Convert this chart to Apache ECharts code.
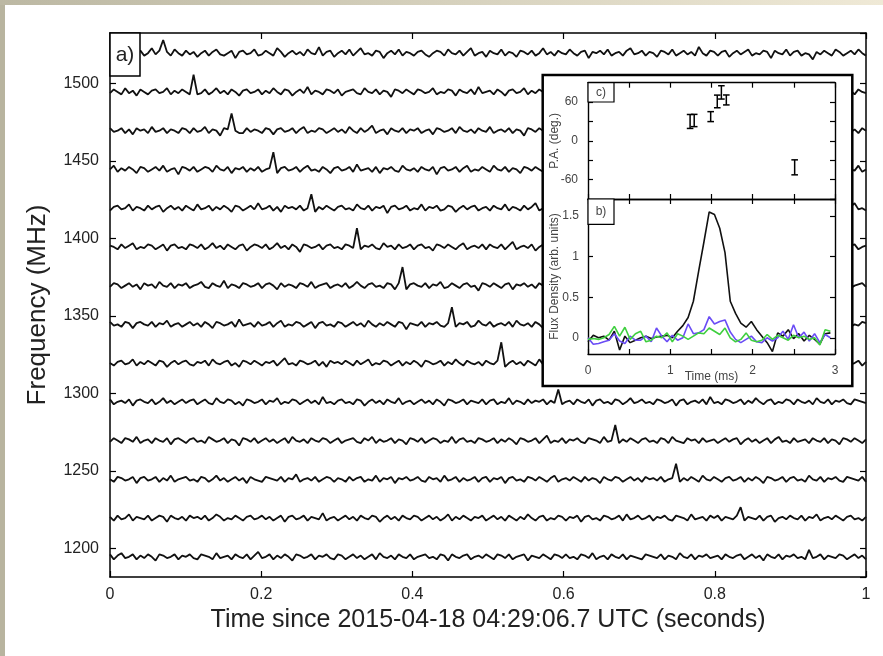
<!DOCTYPE html>
<html><head><meta charset="utf-8">
<script src="https://cdn.jsdelivr.net/npm/echarts@6/dist/echarts.min.js"></script>
<style>html,body{margin:0;padding:0;background:#fff}#c{width:883px;height:656px}</style>
</head><body><div id="c"></div>
<script>
// ---- Panel a): sub-band flux time series (arb. units), plotted offset by centre frequency (MHz) ----
const baseFreqs = [1519.5,1494.5,1469.5,1444.5,1419.5,1394.5,1369.5,1344.5,1319.5,1294.5,1269.5,1244.5,1219.5,1194.5];
const mhzPerFluxUnit = 1.6;

const n1519 = [0.5,-1,1,0,-1.5,1.5,0.5,-0.5,1,-1,0,2,-0.5,1,5.3,0.5,-1,1.5,0,-1,
1,-0.5,0.5,-1.5,0,1,-1,0.5,1.5,-0.5,-1,0,1,-2,0.5,1,-0.5,0,1.5,-1,
-0.5,1,0,-1,2,0.5,-1.5,0,1,-0.5,0.5,-1,1.5,0,-0.5,2.4,-1,0.5,1,-1.5,
0,1,-0.5,1.5,-1,0.5,2,-0.5,0,-1,1,0.5,-2,0,1,-0.5,1.5,-1,0.5,0,
-1,0.5,1,-0.5,-1.5,0,1,0.5,-1,1.5,0,-0.5,1,-1,0.5,2,-1,0,0.5,-1.5,
1,0,-0.5,1.5,-1,0.5,0,-1.5,1,0.5,-0.5,1,-1,0,2,-0.5,0.5,-1,1,0,
-0.5,1.5,0,-1,0.5,1,-2,0.5,0,1,-0.5,1.5,-1,0,0.5,-1,1,2,-0.5,0,
1,-1,0.5,0,-1.5,1,0.5,-0.5,1.5,-1,0,1,-0.5,0.5,-1,2.5,0,-1,1,0.5,
-1,0.5,1,-1.5,0,1,-0.5,0.5,1.5,-1,0,-0.5,1,0.5,-2,1,0,-0.5,1.5,-1,
0.5,1,-1,0,-0.5,-2.5,0.5,-0.5,1,0,-1,1.5,0.5,-1,0,1,-0.5,1.5,0,-1];

const n1494 = [-0.5,1,0,-1,1.5,-0.5,0.5,-1.5,1,0,-1,0.5,1,-0.5,0,1.5,-1,0.5,-0.5,1,
0,-1,6.9,-1,-0.5,1,-1,0,1.5,-0.5,0.5,-1,1,0,-1.5,0.5,1,-0.5,0,1,
-1,0.5,-0.5,1.5,0,-1,1,0.5,-1.5,0,1,-0.5,2,-1,0.5,0,-1,1,0.5,-0.5,
1,-1.5,0,0.5,1,-0.5,-1,1.5,0,-0.5,1,-1,0.5,0,-2,1,0.5,-0.5,1,0,
-1,1,0.5,-0.5,0,1.5,-1,0,-0.5,1,0.5,-1.5,1,0,-0.5,1,-1,2,-0.5,0,
0.5,-1,1,0,-1.5,0.5,1,-0.5,0,1.5,-1,0.5,-0.5,1,0,-1,0.5,1,-2,0.5,
1,-0.5,0,1,-1,0.5,1.5,-1,0,-0.5,1,0.5,-1,0,1.5,-0.5,0.5,-1.5,1,0,
-0.5,1,0.5,-1,2,0,-1,0.5,1,-0.5,0,-1.5,1,0.5,-0.5,1,0,-1,1.5,-0.5,
0,1,-1,0.5,0,-0.5,1.5,-1,0.5,1,-2,0,0.5,1,-0.5,0,1,-1,0.5,2,
-1,0,0.5,-0.5,1,0,-1.5,1,0.5,-0.5,1,-1,0,1.5,-0.5,0.5,-1,1,0,-0.5];

const n1469 = [1,-0.5,0,1,-1,0.5,-1.5,1,0,0.5,-1,1.5,-0.5,0,1,-1,0.5,0,-1,1,
0.5,-1,1,-0.5,0,1.5,-1,0.5,0,-2,1,0.5,6.9,0,-1,-1,1,-0.5,0.5,0,
-1,1,0.5,-1.5,0.5,1,-0.5,0,1,-1,0.5,1.5,-1,0,-0.5,1,0.5,-1,0,1,
-0.5,0.5,-1,1.5,0,-1,1,-0.5,0.5,2,-1,0,0.5,-1.5,1,0,-0.5,1,-1,0.5,
0,1,-1,0,0.5,-1.5,1,0.5,-0.5,0,1,-1,1.5,0,-0.5,0.5,-1,1,0,-0.5,
1.5,-1,0,0.5,-0.5,1,-1,0.5,0,-2,1,0.5,-0.5,1,0,-1,0.5,1.5,-0.5,0,
-1,0.5,1,-0.5,0,1,-1.5,0.5,1,-0.5,0,-1,1,0.5,-0.5,2,-1,0,0.5,-1,
1,0,-0.5,1.5,-1,0,0.5,-1,1,-0.5,0.5,0,-1.5,1,0.5,-0.5,1,0,-1,0.5,
-0.5,1,0,-1,1.5,0.5,-1,0,1,-0.5,0.5,-1,0,1,-2,0.5,1,-0.5,0,1,
-1,0.5,0,1.5,-1,0.5,-0.5,1,0,-1,1,0.5,-1.5,0,1,-0.5,0.5,-1,1,0];

const n1444 = [0,1.5,-1,0.5,-0.5,1,0,-1.5,1,0.5,-1,0,1,-0.5,1.5,-1,0,0.5,-2,1,
0.5,-0.5,1,-1,0,1,0.5,-1,1.5,0,-0.5,1,-1.5,0.5,0,1,-1,0.5,-0.5,1,
-1,0,0.5,6.9,-1.5,0.5,1,-0.5,0,1,-1,0.5,1.5,-0.5,0,-1,1,0,-1.5,0.5,
1,-0.5,0,1,-1,2,-0.5,0,0.5,-1,1,-1.5,0.5,0,1,-0.5,-1,1.5,0,-0.5,
0.5,-1,1,0,-0.5,1,-2,0.5,1,-0.5,0,1,-1,0.5,1.5,-1,0,-0.5,1,0,
-1,1.5,0,-0.5,1,-1,0.5,0,-1.5,1,0.5,-0.5,1,0,-1,2,-0.5,0.5,-1,1,
0,-1,1,0.5,-0.5,1.5,-1,0,0.5,-1,1,0,-2,1,0.5,-0.5,0,1,-1,0.5,
1,-0.5,0,-1,1.5,0.5,-1,1,0,-0.5,1,-1,0.5,1.5,-0.5,0,-1,1,0.5,-1.5,
0.5,0,1,-1,0,1.5,-0.5,-1,1,0.5,-0.5,0,1,-1.5,0.5,1,-1,0,2,-0.5,
-1,0.5,1,-0.5,0,-1,1,0.5,-1.5,0,1,-0.5,0.5,-1,1,0,-0.5,1.5,-1,0];

const n1419 = [-1,0.5,1,-0.5,0,1.5,-1,0.5,0,-1,1,-0.5,0.5,1,-1.5,0,1,-0.5,0.5,-1,
1,0,-1,1.5,-0.5,0,1,-1,0.5,-0.5,1,0,-1.5,1,0.5,-1,0,1,-0.5,2,
-0.5,0,1,-1,0.5,-1.5,1,0,0.5,-0.5,1,-1,0,5.6,-1.5,0.5,-0.5,1,0,-1,
0.5,1,-0.5,0,-1,1.5,0,-0.5,1,-1,0.5,0,1,-2,0.5,1,-0.5,0,1,-1,
0,-0.5,1.5,-1,0.5,0,1,-1,-0.5,1,0.5,-1.5,0,1,-0.5,0.5,1,-1,0,0.5,
-1,1,0,-0.5,1.5,-1,0.5,0,-1,1,-0.5,0.5,2,-1,0,0.5,-1.5,1,0,-0.5,
1,-1,0.5,0,-0.5,1,0,-1.5,1,0.5,-0.5,0,1,-1,1.5,0,-0.5,0.5,-1,1,
0,0.5,-1,1,-0.5,0,1.5,-1,0.5,-0.5,1,0,-1,0.5,1,-2,0.5,0,1,-0.5,
-1,1,0.5,-0.5,0,1,-1,0.5,1.5,-0.5,0,-1,1,0,-0.5,1,0.5,-1.5,0,1,
0.5,-1,0,1,-0.5,1.5,-1,0,0.5,-1,1,-0.5,0,1,-1,0.5,2,-0.5,0,-1];

const n1394 = [0.5,0,-1,1,-0.5,0.5,1.5,-1,0,-0.5,1,0.5,-1,0,1,-1.5,0.5,1,-0.5,0,
-1,1,0.5,-0.5,1,-1,0,1.5,-0.5,0.5,-1,1,0,-1,0.5,1,-1.5,0,1,0.5,
-0.5,1,-1,0,1.5,-0.5,0.5,-1,1,0,-2,1,0.5,-0.5,0,1,-1,0.5,1,-0.5,
0,-1,1,0.5,-0.5,7.5,-1,0.5,0,1,-0.5,-1,1.5,0,0.5,-1,1,-0.5,0,1,
-1,0.5,1,-0.5,0,-1.5,1,0.5,-0.5,1,0,-1,0.5,1.5,-1,0,0.5,-0.5,1,-1,
1,0,-0.5,1,-1,0.5,2,-1,0,0.5,-0.5,1,-1.5,0,1,0.5,-1,0,1,-0.5,
-0.5,1,0,-1,1.5,0,-0.5,1,-1,0.5,0,-1,1,0.5,-1.5,1,0,-0.5,1,0,
1,-0.5,0.5,0,-1,1,0.5,-1.5,0,1,-0.5,2,-0.5,0,-1,1,0.5,-0.5,0,1,
-1,0,1,-0.5,0.5,-1,1.5,0,-0.5,1,-1,0,0.5,1,-0.5,-1,1,0,-1.5,0.5,
1,-0.5,0,1,-1,0.5,0,-0.5,1.5,-1,0.5,0,-1,1,-0.5,0.5,1,-1,0,0.5];

const n1369 = [-0.5,1,0.5,-1,0,1,-0.5,0.5,-1.5,1,0,0.5,-1,1.5,0,-0.5,1,-1,0.5,0,
1,-1,0,0.5,1.5,-0.5,-1,1,0,-0.5,2,-1,0.5,0,-1,1,0.5,-0.5,0,1,
-1,0.5,1,0,-1.5,1,-0.5,0.5,0,-1,1,0.5,-0.5,1.5,-1,0,0.5,1,-1,0,
0.5,-0.5,1,-1,0,1.5,0,-1,0.5,1,-0.5,0,-1,1,0.5,-1.5,1,7.5,-1.5,0.5,
1,0,-0.5,1,-1,0.5,0,1.5,-1,-0.5,1,0,-1,0.5,1,-0.5,0,-2,1,0.5,
-0.5,1,0,-1,0.5,1,-1.5,0.5,0,1,-0.5,0.5,-1,1,0,1.5,-1,0,0.5,-0.5,
1,-1,0.5,0,-0.5,1.5,-1,0,1,-0.5,0.5,-1,0,1,-1.5,0.5,1,-0.5,0,1,
-1,0.5,0,1,-0.5,-1,1,0.5,-0.5,2,-1,0,0.5,-0.5,1,0,-1,1,0.5,-1,
0,1,-0.5,0.5,-1,0,1.5,-1,0.5,0,-0.5,1,-1.5,1,0,-0.5,0.5,1,-1,0,
0.5,-1,1,0,-0.5,1,0.5,-1,0,1.5,-1,0.5,0,-0.5,1,-1,0,0.5,1,-0.5];

const n1344 = [1,-0.5,0,-1,1,0.5,-1.5,0.5,1,0,-0.5,1,-1,0.5,0,1.5,-1,0,0.5,-1,
0,1,-0.5,0.5,-1,1,0,-1.5,1,0.5,-0.5,0,1,-1,2,-0.5,0,0.5,-1,1,
-0.5,0,1,-1,0.5,1.5,-1,0,-0.5,1,0.5,-1,0,1,-1.5,0.5,1,-0.5,0,-1,
1,0.5,-1,0,1,-0.5,0.5,-1,1.5,0,-1,0.5,-0.5,1,0,-1,1,0.5,-2,0.5,
0,-0.5,1,-1,0.5,0,1,-0.5,-1,0.5,6.9,-1,0.5,0,1,-1,-0.5,1.5,0,-0.5,
1,-1,0,0.5,-0.5,1,-1,1.5,0,-0.5,0.5,-1,1,0,-1.5,1,0.5,-0.5,0,1,
-1,0.5,1,-0.5,0,-1,1.5,0,-0.5,1,-1,0.5,0,1,-0.5,-1,2,-0.5,0.5,0,
0.5,-1,1,0,-0.5,1,0.5,-1.5,0,1,-0.5,0,1,-1,0.5,0,-1,1.5,-0.5,0,
1,-0.5,0,-1,1,0.5,-0.5,0,1.5,-1,0,0.5,-1,1,0,-1.5,0.5,1,-0.5,0,
-1,1,0.5,-0.5,0,1,-1,0.5,0,-0.5,1.5,-1,0,0.5,1,-1,0,-0.5,1,0.5];

const n1319 = [0,-1,0.5,1,-0.5,0,1.5,-1,0.5,-0.5,1,0,-1,1,0.5,-1.5,0,1,-0.5,0.5,
1,-0.5,-1,0.5,0,1,-1,1.5,0,-0.5,0.5,1,-1,0,-1.5,1,0.5,-0.5,1,0,
-1,0.5,0,1,-1,0.5,2,-0.5,0,-1,1,0.5,-0.5,0,1,-1,0.5,-1.5,1,0,
0.5,-0.5,1,0,-1,1,-0.5,0.5,1.5,-1,0,-0.5,1,0.5,-1,0,1,-1,0.5,-0.5,
1,0,-1.5,1,0.5,-0.5,0,1,-1,0.5,-0.5,1.5,0,-1,1,0,-0.5,0.5,-1,1,
0,-0.5,1,8.4,-1.5,0,1,-0.5,0.5,-1,1,0,-1,1.5,-0.5,0,0.5,1,-1,0,
-0.5,1,-1,0.5,0,1,-1.5,0.5,1,-0.5,0,-1,1,0.5,-0.5,2,-1,0,0.5,-1,
1,0,-0.5,1,-1,0.5,0,-1,1.5,-0.5,0.5,0,-1,1,0.5,-1.5,1,0,-0.5,0.5,
-1,1,0,-0.5,1,-1,0.5,1.5,-1,0,0.5,-0.5,1,-1,0,1,-0.5,0.5,-2,1,
0,0.5,-1,1,-0.5,0,1,-1,0.5,1.5,-0.5,0,-1,1,0.5,-0.5,0,1,-1,0.5];

const n1294 = [1,-1,0,0.5,-0.5,1,-1.5,0.5,1,0,-0.5,1,-1,0,1.5,-0.5,0.5,-1,0,1,
-0.5,0.5,1,-1,0,1,-0.5,-1,1.5,0,-0.5,1,0.5,-1,0,-1.5,1,0.5,-0.5,0,
1,-1,0.5,0,1.5,-1,0,-0.5,1,0.5,-1,0,1,-0.5,0.5,-1,2,-0.5,0,-1,
0.5,1,-0.5,0,-1,1,0.5,-1.5,0,1,-0.5,0.5,-1,1,0,-0.5,1.5,-1,0,0.5,
-1,0,1,-0.5,0.5,-1,1,0,-1.5,1,0.5,-0.5,0,1,-1,0.5,0,-0.5,1,-1,
0.5,1,-1,0,-0.5,1.5,-1,0.5,0,-1,1,-0.5,0.5,0,1,-1,0.5,-0.5,5,-1,
0,0.5,-1,1,0,-0.5,1,-1.5,0.5,1,-0.5,0,-1,1,0.5,-1,0,1.5,-0.5,0,
1,-0.5,0,-1,1,0.5,-0.5,0,1,-1.5,0.5,1,-1,0,0.5,-0.5,1,-1,2,-0.5,
0,-1,1,0.5,-0.5,0,1,-1,0.5,-0.5,1.5,0,-1,0.5,1,-1,0,-0.5,1,0.5,
-1,1,0,-0.5,0.5,-1,1.5,0,-0.5,1,-1,0.5,0,1,-0.5,-1,1,0.5,0,-0.5];

const n1269 = [-0.5,1,0,-1,1,0.5,-0.5,1.5,-1,0,0.5,-1,1,0,-0.5,1,-1.5,0.5,1,0,
-1,0.5,1,-0.5,0,-1,1.5,0.5,-0.5,0,1,-1,0.5,0,-2,1,0.5,-0.5,1,-1,
0,1,-0.5,0.5,-1,0,1,-1,1.5,0,-0.5,0.5,-1,1,0,-0.5,1,0.5,-1,0,
1,-1,0,0.5,1,-0.5,-1,1,0,1.5,-1,0.5,-0.5,0,1,-1,0.5,0,-1.5,1,
0.5,-0.5,1,-1,0,1,0.5,-1,0,-0.5,1.5,-1,0.5,1,-0.5,0,-1,1,0.5,-0.5,
0,1,-1,0.5,-0.5,1,0,-1.5,1,0.5,-0.5,0,1,-1,0.5,2,-1,0,-0.5,1,
-1,0.5,0,1,-0.5,-1,1,0.5,0,-1,1.5,-0.5,0,6.3,-1,0.5,-0.5,1,0,-1,
0.5,1,-0.5,0,-1,1,0.5,-1,1.5,0,-0.5,-1,1,0,0.5,-1,1,-0.5,0,0.5,
-1,0,1,-0.5,0.5,1,-1.5,0,1,-0.5,0.5,-1,0,1,-1,0.5,1.5,-0.5,0,-1,
1,-0.5,0,0.5,-1,1,0,-0.5,1,-1,0.5,0,-1.5,1,0.5,-0.5,1,0,-1,0.5];

const n1244 = [0,-1,1,0.5,-0.5,0,1,-1.5,0.5,1,-0.5,0,1,-1,0.5,-0.5,1.5,-1,0,0.5,
1,-0.5,0,-1,1,0.5,-1,0,1.5,-0.5,0.5,-1,0,1,-0.5,0.5,-1.5,1,0,-0.5,
-1,1,0.5,0,-0.5,1,-1,0.5,0,2,-1,0,0.5,-0.5,1,-1,0,1,0.5,-1,
0.5,0,-1,1,-0.5,0.5,1,-1,0,-0.5,1.5,-1,0.5,0,1,-1.5,0.5,0,1,-0.5,
0,1,-0.5,-1,1,0,0.5,-1,1.5,-0.5,0,1,-1,0.5,-0.5,0,1,-1,0.5,1,
-1,0.5,0,1,-1.5,0.5,1,-0.5,0,-1,1,0.5,-0.5,1,0,-1,0.5,1.5,-1,0,
0.5,-0.5,1,0,-1,1,-0.5,0.5,0,-1.5,1,0,-0.5,1,0.5,-1,0,1,-0.5,0.5,
-1,1,0,0.5,-0.5,1,-1,0,0.5,6.3,-1,0.5,-0.5,1,0,-1,1.5,0,-0.5,1,
0,-1,0.5,1,-0.5,0,1,-1,0.5,-0.5,1,0,-1.5,1,0.5,-0.5,0,1,-1,0.5,
1,-0.5,0,-1,1.5,0,-0.5,1,-1,0.5,0,1,-0.5,-1,1,0.5,0,-0.5,1,-1];

const n1219 = [0.5,-1,1,-0.5,0,1.5,-1,0.5,0,-0.5,1,-1,0,1,0.5,-1.5,1,0,-0.5,0.5,
-1,1,0,0.5,-0.5,1,-1,0,1.5,0.5,-1,0,-0.5,1,0,-1,0.5,1,-0.5,0,
1,-0.5,0.5,-1,0,1,-1.5,0.5,1,-0.5,0,1,-1,0.5,0,-0.5,2,-1,0,0.5,
-1,0,1,-0.5,0.5,-1,1,0,-0.5,1,0.5,-1.5,0,1,-0.5,0.5,-1,1,0,-0.5,
1,0.5,-1,0,1,-0.5,0.5,-1,0,1.5,-1,0.5,-0.5,1,0,-1,0.5,0,1,-1,
0,1,-0.5,0.5,-1,1,0,-1,0.5,-0.5,1.5,0,-1,0.5,1,-1,0,-0.5,1,0.5,
-1,0.5,0,1,-1.5,0.5,1,-0.5,0,-1,1,0.5,-0.5,0,1,-1,1.5,-0.5,0,1,
-0.5,0,1,-1,0.5,0,1,-0.5,-1,1,0.5,0,-1,1.5,-0.5,0,0.5,-1,1,0,
1,-1,0.5,0,-0.5,1,4.4,-1,0.5,0,-0.5,1,-1,0.5,1,-1.5,0,0.5,-0.5,1,
0,-0.5,1,-1,0.5,0,1.5,-1,0,0.5,-0.5,1,0,-1,0.5,1,-0.5,0,-1,0.5];

const n1194 = [1,-1,0.5,1.5,-0.5,0,1,-1,0.5,-0.5,1,0,-1.5,1,0.5,-0.5,0,1,-1,0.5,
0,1,-0.5,-1,1,0.5,0,-1,1.5,-0.5,0,0.5,-1,1,0,-0.5,1,-1,0.5,2,
-0.5,0,1,-1,0.5,-0.5,1,0,-1.5,1,0.5,-0.5,0,1,-1,0.5,0,1,-0.5,-1,
1,0.5,-1,0,1,-0.5,0.5,-1,0,1,-1,1.5,0,-0.5,0.5,-1,1,0,-0.5,1,
-1,0,0.5,1,-0.5,0,-1,1,0.5,-1.5,1,0,-0.5,0.5,1,-1,0,0.5,-0.5,1,
0,-1,1,0.5,-0.5,1,-1,0,0.5,1,-1.5,0.5,0,-0.5,1,0,-1,1,0.5,-0.5,
1,-0.5,0,-1,1,0.5,-0.5,1.5,-1,0,0.5,-1,1,0,-0.5,1,-1,0.5,0,-0.5,
-1,1,0.5,0,-0.5,1,-1,0.5,0,-1,1.5,0,-0.5,1,-1,0.5,0,1,-0.5,0,
0.5,-1,1,0,-0.5,0.5,1,-1,0,1,-0.5,0.5,-1.5,1,0,-0.5,1,-1,0.5,0,
1,-0.5,0,-1,2.8,-0.5,0,1,-1,0.5,0,-0.5,1,0.5,-1,0,1,-0.5,0.5,-1];

const traceFlux = [n1519,n1494,n1469,n1444,n1419,n1394,n1369,n1344,n1319,n1294,n1269,n1244,n1219,n1194];

// ---- Panel b): pulse profile (ms, arb. units) ----
const fluxTime = [0,0.064,0.128,0.192,0.256,0.32,0.384,0.448,0.512,0.576,0.64,0.704,0.768,0.832,0.896,0.96,1.024,1.088,1.152,1.216,1.28,1.344,1.408,1.472,1.536,1.6,1.664,1.728,1.792,1.856,1.92,1.984,2.048,2.112,2.176,2.24,2.304,2.368,2.432,2.496,2.56,2.624,2.688,2.752,2.816,2.88,2.944];
const fluxBlack = [-0.05,0.03,0.0,0.02,-0.03,0.08,-0.15,0.02,-0.06,-0.03,0.0,0.02,-0.01,0.01,0.02,0.03,0.0,0.08,0.15,0.25,0.45,0.82,1.18,1.55,1.52,1.35,1.05,0.45,0.3,0.18,0.13,0.2,0.1,0.02,-0.06,-0.17,0.06,0.02,0.1,-0.01,0.05,-0.04,0.03,-0.02,-0.08,0.05,0.06];
const fluxBlue = [0.0,-0.08,-0.07,-0.05,-0.03,0.05,-0.04,-0.07,0.02,-0.03,-0.03,0.02,-0.05,0.12,0.02,-0.05,0.03,-0.03,0.0,0.17,0.05,0.06,0.1,0.26,0.17,0.2,0.22,0.07,-0.02,-0.06,-0.02,0.02,-0.05,-0.06,0.0,-0.04,0.0,0.08,-0.02,0.16,0.0,0.07,-0.04,0.05,-0.06,0.04,0.0];
const fluxGreen = [-0.02,-0.01,-0.02,0.0,0.04,0.14,0.02,0.13,-0.02,0.05,0.08,-0.05,-0.03,0.02,0.0,0.06,-0.05,0.05,0.02,-0.02,0.02,0.06,0.05,0.12,0.08,0.04,0.12,0.0,-0.05,-0.02,0.06,-0.03,-0.05,-0.03,0.04,-0.02,0.03,0.0,-0.03,0.03,0.0,0.02,-0.02,0.0,-0.09,0.1,0.08];

// ---- Panel c): position angle (ms, deg, +/- deg) ----
const paTime = [1.24,1.29,1.49,1.57,1.62,1.68,2.51];
const paDeg  = [30,31.5,37.5,61,75,63.3,-41];
const paErr  = [10.8,9.5,7.7,9.8,10.3,7.7,11.6];

const FONT = 'Liberation Sans, Arial, Helvetica, sans-serif';
const sampleTimes = n1519.map((_, i) => i / (n1519.length - 1));

function ax(o) {
  const base = {
    type: 'value',
    nameMoveOverlap: false,
    axisLine: { show: true, onZero: false, lineStyle: { color: '#000', width: o.lw || 1.5 } },
    axisTick: { show: true, inside: true, length: o.tl || 6, lineStyle: { color: '#000', width: 1.2 } },
    splitLine: { show: false },
    axisLabel: { show: false },
    z: o.z || 0
  };
  return Object.assign(base, o.extra || {});
}

const series = traceFlux.map((flux, k) => ({
  type: 'line', xAxisIndex: 0, yAxisIndex: 0, z: 2,
  data: flux.map((f, i) => [sampleTimes[i], baseFreqs[k] + f * mhzPerFluxUnit]),
  showSymbol: false, symbol: 'none', silent: true, animation: false,
  lineStyle: { color: '#111', width: 1.8 }
}));

series.push({
  type: 'custom', xAxisIndex: 2, yAxisIndex: 2, z: 12, silent: true, animation: false,
  data: paTime.map((t, i) => [t, paDeg[i], paErr[i]]),
  encode: { x: 0, y: 1 },
  renderItem(params, api) {
    const x = api.value(0), y = api.value(1), e = api.value(2);
    const top = api.coord([x, y + e]), bot = api.coord([x, y - e]);
    const w = 3.3, st = { stroke: '#000', lineWidth: 1.5 };
    return { type: 'group', children: [
      { type: 'line', shape: { x1: top[0], y1: top[1], x2: bot[0], y2: bot[1] }, style: st },
      { type: 'line', shape: { x1: top[0] - w, y1: top[1], x2: top[0] + w, y2: top[1] }, style: st },
      { type: 'line', shape: { x1: bot[0] - w, y1: bot[1], x2: bot[0] + w, y2: bot[1] }, style: st }
    ]};
  }
});

[[fluxBlack, '#111'], [fluxBlue, '#6a4cf5'], [fluxGreen, '#3fcf3f']].forEach(([vals, col]) => {
  series.push({
    type: 'line', xAxisIndex: 4, yAxisIndex: 4, z: 12,
    data: vals.map((v, i) => [fluxTime[i], v]),
    showSymbol: false, symbol: 'none', silent: true, animation: false,
    lineStyle: { color: col, width: 1.6 }
  });
});

const mainLabel = { show: true, color: '#222', fontSize: 16, fontFamily: FONT, showMinLabel: false, showMaxLabel: false, formatter: v => String(v) };
const insetLabel = { show: true, color: '#444', fontSize: 12, fontFamily: FONT, showMinLabel: false, showMaxLabel: false };

const option = {
  backgroundColor: '#fff',
  animation: false,
  grid: [
    { left: 110, top: 33, width: 756, height: 544, outerBoundsMode: 'none', containLabel: false },
    { left: 588, top: 82.7, width: 247, height: 116.3, outerBoundsMode: 'none', containLabel: false, z: 10 },
    { left: 588, top: 199, width: 247, height: 155, outerBoundsMode: 'none', containLabel: false, z: 10 }
  ],
  xAxis: [
    ax({ extra: { gridIndex: 0, position: 'bottom', min: 0, max: 1, interval: 0.2,
      axisLabel: Object.assign({}, mainLabel, { margin: 10, showMinLabel: true, showMaxLabel: true }),
      name: 'Time since 2015-04-18 04:29:06.7 UTC (seconds)', nameLocation: 'middle', nameGap: 31,
      nameTextStyle: { fontSize: 25, color: '#222', fontFamily: FONT } } }),
    ax({ extra: { gridIndex: 0, position: 'top', min: 0, max: 1, interval: 0.2 } }),
    ax({ z: 11, lw: 1.4, tl: 5, extra: { gridIndex: 1, position: 'bottom', min: 0, max: 3, interval: 0.5 } }),
    ax({ z: 11, lw: 1.4, tl: 5, extra: { gridIndex: 1, position: 'top', min: 0, max: 3, interval: 0.5 } }),
    ax({ z: 11, lw: 1.4, tl: 5, extra: { gridIndex: 2, position: 'bottom', min: 0, max: 3, interval: 0.5,
      axisLabel: Object.assign({}, insetLabel, { margin: 11, showMinLabel: true, showMaxLabel: true,
        formatter: v => (Math.abs(v - Math.round(v)) < 1e-9 ? String(Math.round(v)) : '') }),
      name: 'Time (ms)', nameLocation: 'middle', nameGap: 17,
      nameTextStyle: { fontSize: 12, color: '#444', fontFamily: FONT } } }),
    ax({ z: 11, lw: 1.4, tl: 5, extra: { gridIndex: 2, position: 'top', min: 0, max: 3, interval: 0.5 } })
  ],
  yAxis: [
    ax({ extra: { gridIndex: 0, position: 'left', min: 1181.5, max: 1532.5, splitNumber: 7,
      axisLabel: Object.assign({}, mainLabel, { margin: 11 }),
      name: 'Frequency (MHz)', nameLocation: 'middle', nameGap: 59,
      nameTextStyle: { fontSize: 26, color: '#222', fontFamily: FONT } } }),
    ax({ extra: { gridIndex: 0, position: 'right', min: 1181.5, max: 1532.5, splitNumber: 7 } }),
    ax({ z: 11, lw: 1.4, tl: 5, extra: { gridIndex: 1, position: 'left', min: -90, max: 90, interval: 30,
      axisLabel: Object.assign({}, insetLabel, { margin: 10, formatter: v => (v % 60 === 0 ? String(v) : '') }),
      name: 'P.A. (deg.)', nameLocation: 'middle', nameGap: 27,
      nameTextStyle: { fontSize: 12, color: '#444', fontFamily: FONT } } }),
    ax({ z: 11, lw: 1.4, tl: 5, extra: { gridIndex: 1, position: 'right', min: -90, max: 90, interval: 30 } }),
    ax({ z: 11, lw: 1.4, tl: 5, extra: { gridIndex: 2, position: 'left', min: -0.2, max: 1.71, splitNumber: 4,
      axisLabel: Object.assign({}, insetLabel, { margin: 9 }),
      name: 'Flux Density (arb. units)', nameLocation: 'middle', nameGap: 27,
      nameTextStyle: { fontSize: 12, color: '#444', fontFamily: FONT } } }),
    ax({ z: 11, lw: 1.4, tl: 5, extra: { gridIndex: 2, position: 'right', min: -0.2, max: 1.71, splitNumber: 4 } })
  ],
  graphic: { elements: [
    { type: 'rect', z: 1, silent: true, shape: { x: 0, y: 0, width: 5, height: 656 }, style: { fill: '#b8b49f' } },
    { type: 'rect', z: 1, silent: true, shape: { x: 0, y: 0, width: 883, height: 5 },
      style: { fill: new echarts.graphic.LinearGradient(0, 0, 1, 0, [{ offset: 0, color: '#bcb8a3' }, { offset: 1, color: '#efe9d6' }]) } },
    { type: 'rect', z: 4, silent: true, shape: { x: 110, y: 33, width: 30, height: 43 }, style: { fill: '#fff', stroke: '#000', lineWidth: 1.5 } },
    { type: 'text', z: 5, silent: true, x: 125, y: 55, style: { text: 'a)', fontSize: 21, fontFamily: FONT, fill: '#222', align: 'center', verticalAlign: 'middle' } },
    { type: 'rect', z: 6, silent: true, shape: { x: 542.7, y: 75, width: 309.6, height: 311 }, style: { fill: '#fff', stroke: '#000', lineWidth: 2.5 } },
    { type: 'rect', z: 13, silent: true, shape: { x: 588, y: 82.7, width: 26, height: 19.3 }, style: { fill: '#fff', stroke: '#000', lineWidth: 1.2 } },
    { type: 'text', z: 14, silent: true, x: 601, y: 92.5, style: { text: 'c)', fontSize: 12, fontFamily: FONT, fill: '#444', align: 'center', verticalAlign: 'middle' } },
    { type: 'rect', z: 13, silent: true, shape: { x: 588, y: 199, width: 26, height: 25.3 }, style: { fill: '#fff', stroke: '#000', lineWidth: 1.2 } },
    { type: 'text', z: 14, silent: true, x: 601, y: 211.8, style: { text: 'b)', fontSize: 12, fontFamily: FONT, fill: '#444', align: 'center', verticalAlign: 'middle' } }
  ] },
  series
};

const chart = echarts.init(document.getElementById('c'), null, { renderer: 'canvas' });
chart.setOption(option);
</script>
</body></html>
